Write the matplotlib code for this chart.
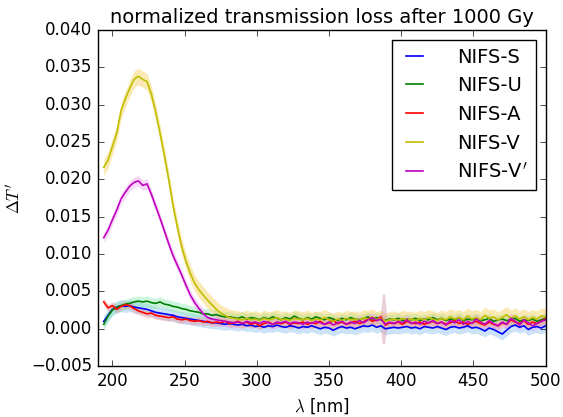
import numpy as np
import matplotlib
matplotlib.use('Agg')
import matplotlib.pyplot as plt

plt.style.use('classic')

# wavelength grid (nm)
wavelength = np.arange(194, 501, 3)

labels = ['NIFS-S', 'NIFS-U', 'NIFS-A', 'NIFS-V', "NIFS-V$'$"]

nifs_s = [0.0010, 0.0018, 0.0026, 0.0029, 0.0031, 0.0030, 0.0031, 0.0029, 0.0028, 0.0027,
          0.0026, 0.0024, 0.0022, 0.0021, 0.0020, 0.0019, 0.0018, 0.0016, 0.0015, 0.0014,
          0.0013, 0.0012, 0.0011, 0.0010, 0.0009, 0.0008, 0.0008, 0.0007, 0.0006, 0.0007,
          0.0006, 0.0005, 0.0006, 0.0004, 0.0005, 0.0003, 0.0004, 0.0002, 0.0004, 0.0003,
          0.0005, 0.0003, 0.0002, 0.0004, 0.0003, 0.0001, 0.0003, 0.0002, 0.0004, 0.0002,
          0.0000, 0.0002, 0.0001, -0.0002, 0.0001, 0.0003, 0.0001, 0.0002, 0.0000, 0.0002,
          0.0004, 0.0003, 0.0005, 0.0002, 0.0004, 0.0000, 0.0001, 0.0002, 0.0001, 0.0002,
          0.0003, 0.0001, 0.0002, 0.0000, 0.0003, 0.0002, 0.0001, 0.0003, 0.0001, -0.0001,
          0.0002, 0.0003, 0.0001, 0.0002, 0.0004, 0.0001, 0.0002, 0.0000, -0.0003, 0.0001,
          -0.0001, -0.0004, -0.0007, -0.0002, 0.0003, 0.0005, 0.0002, 0.0004, -0.0001, 0.0002,
          0.0003, 0.0001, 0.0004]

nifs_u = [0.0006, 0.0017, 0.0025, 0.0029, 0.0031, 0.0033, 0.0034, 0.0036, 0.0037, 0.0036,
          0.0037, 0.0035, 0.0034, 0.0036, 0.0033, 0.0032, 0.0030, 0.0029, 0.0027, 0.0026,
          0.0024, 0.0023, 0.0022, 0.0020, 0.0020, 0.0018, 0.0019, 0.0017, 0.0016, 0.0016,
          0.0015, 0.0014, 0.0016, 0.0013, 0.0015, 0.0014, 0.0012, 0.0015, 0.0013, 0.0016,
          0.0014, 0.0012, 0.0015, 0.0013, 0.0017, 0.0014, 0.0012, 0.0015, 0.0013, 0.0016,
          0.0014, 0.0012, 0.0015, 0.0013, 0.0011, 0.0014, 0.0012, 0.0015, 0.0013, 0.0012,
          0.0014, 0.0016, 0.0013, 0.0015, 0.0012, 0.0011, 0.0013, 0.0012, 0.0014, 0.0011,
          0.0013, 0.0012, 0.0014, 0.0011, 0.0013, 0.0012, 0.0015, 0.0012, 0.0014, 0.0011,
          0.0013, 0.0012, 0.0015, 0.0011, 0.0013, 0.0012, 0.0014, 0.0011, 0.0012, 0.0014,
          0.0010, 0.0012, 0.0013, 0.0011, 0.0012, 0.0014, 0.0010, 0.0012, 0.0011, 0.0013,
          0.0010, 0.0012, 0.0014]

nifs_a = [0.0036, 0.0028, 0.0031, 0.0026, 0.0030, 0.0032, 0.0031, 0.0027, 0.0024, 0.0022,
          0.0020, 0.0021, 0.0018, 0.0017, 0.0016, 0.0015, 0.0016, 0.0013, 0.0012, 0.0013,
          0.0011, 0.0010, 0.0011, 0.0009, 0.0010, 0.0008, 0.0009, 0.0008, 0.0010, 0.0007,
          0.0008, 0.0010, 0.0007, 0.0009, 0.0006, 0.0008, 0.0004, 0.0007, 0.0009, 0.0006,
          0.0008, 0.0007, 0.0009, 0.0006, 0.0008, 0.0007, 0.0009, 0.0006, 0.0008, 0.0007,
          0.0010, 0.0006, 0.0008, 0.0011, 0.0007, 0.0009, 0.0006, 0.0008, 0.0010, 0.0007,
          0.0009, 0.0014, 0.0010, 0.0012, 0.0016, 0.0005, 0.0008, 0.0007, 0.0009, 0.0006,
          0.0010, 0.0008, 0.0007, 0.0009, 0.0006, 0.0008, 0.0010, 0.0007, 0.0009, 0.0006,
          0.0008, 0.0011, 0.0007, 0.0009, 0.0006, 0.0008, 0.0010, 0.0007, 0.0005, 0.0009,
          0.0006, 0.0004, 0.0008, 0.0006, 0.0012, 0.0009, 0.0007, 0.0011, 0.0006, 0.0009,
          0.0007, 0.0010, 0.0013]

nifs_v = [0.0216, 0.0226, 0.0244, 0.0262, 0.0292, 0.0308, 0.0322, 0.0334, 0.0338, 0.0334,
          0.0331, 0.0314, 0.0290, 0.0262, 0.0232, 0.0200, 0.0165, 0.0136, 0.0110, 0.0090,
          0.0074, 0.0061, 0.0052, 0.0045, 0.0038, 0.0032, 0.0026, 0.0021, 0.0018, 0.0015,
          0.0014, 0.0013, 0.0012, 0.0014, 0.0012, 0.0013, 0.0011, 0.0014, 0.0012, 0.0013,
          0.0015, 0.0012, 0.0013, 0.0011, 0.0014, 0.0013, 0.0012, 0.0014, 0.0011, 0.0013,
          0.0012, 0.0015, 0.0012, 0.0010, 0.0013, 0.0011, 0.0014, 0.0012, 0.0013, 0.0011,
          0.0015, 0.0013, 0.0016, 0.0012, 0.0014, 0.0010, 0.0012, 0.0013, 0.0011, 0.0014,
          0.0012, 0.0013, 0.0011, 0.0014, 0.0012, 0.0015, 0.0013, 0.0011, 0.0014, 0.0012,
          0.0016, 0.0013, 0.0015, 0.0012, 0.0017, 0.0013, 0.0015, 0.0012, 0.0018, 0.0014,
          0.0016, 0.0012, 0.0015, 0.0019, 0.0014, 0.0017, 0.0013, 0.0016, 0.0012, 0.0015,
          0.0013, 0.0017, 0.0016]

nifs_v2 = [0.0122, 0.0132, 0.0146, 0.0159, 0.0174, 0.0183, 0.0191, 0.0196, 0.0198, 0.0192,
           0.0194, 0.0180, 0.0164, 0.0148, 0.0131, 0.0114, 0.0098, 0.0085, 0.0072, 0.0058,
           0.0045, 0.0035, 0.0027, 0.0020, 0.0015, 0.0013, 0.0012, 0.0011, 0.0010, 0.0009,
           0.0008, 0.0009, 0.0007, 0.0010, 0.0008, 0.0009, 0.0007, 0.0010, 0.0008, 0.0006,
           0.0009, 0.0008, 0.0010, 0.0007, 0.0009, 0.0008, 0.0006, 0.0009, 0.0007, 0.0010,
           0.0008, 0.0006, 0.0009, 0.0005, 0.0008, 0.0010, 0.0006, 0.0009, 0.0007, 0.0011,
           0.0008, 0.0012, 0.0015, 0.0011, 0.0013, 0.0006, 0.0009, 0.0007, 0.0010, 0.0008,
           0.0012, 0.0007, 0.0009, 0.0006, 0.0010, 0.0008, 0.0011, 0.0007, 0.0009, 0.0005,
           0.0011, 0.0008, 0.0012, 0.0006, 0.0010, 0.0007, 0.0013, 0.0009, 0.0006, 0.0011,
           0.0007, 0.0004, 0.0009, 0.0006, 0.0014, 0.0010, 0.0005, 0.0012, 0.0008, 0.0004,
           0.0007, 0.0010, 0.0012]

# half width of the shaded spread around each curve
spread = [0.0008, 0.0007, 0.0005, 0.0011, 0.0007]

# wide spread near 388 nm
spike_wl = [385.5, 387, 388.5, 390]
spike_lo = [0.0000, -0.0020, -0.0020, 0.0000]
spike_hi = [0.0015, 0.0047, 0.0047, 0.0015]

line_colors = ['b', 'g', 'r', 'y', 'm']
band_colors = ['#7fb8f0', '#80e8a8', '#f08c8c', '#f5c842', '#f0a0f0']

fig = plt.figure(figsize=(5.63, 4.17), dpi=100, facecolor='white')
ax = fig.add_axes([0.174, 0.122, 0.795, 0.806])

series = [nifs_s, nifs_u, nifs_a, nifs_v, nifs_v2]
for y, lab, lc, bc, s in zip(series, labels, line_colors, band_colors, spread):
    y = np.array(y)
    ax.fill_between(wavelength, y - s, y + s, color=bc, alpha=0.4, linewidth=0)
for y, lab, lc in zip(series, labels, line_colors):
    ax.plot(wavelength, y, color=lc, lw=1.2, label=lab)

ax.fill_between(spike_wl, spike_lo, spike_hi, color='#d8a0b0', alpha=0.5, linewidth=0)

ax.set_xlim(190, 500)
ax.set_ylim(-0.005, 0.040)
ax.set_title('normalized transmission loss after 1000 Gy', fontsize=14)
ax.set_xlabel(r'$\lambda$ [nm]', fontsize=12)
ax.set_ylabel(r"$\Delta T\,'$", fontsize=12)
ax.tick_params(labelsize=12)
ax.legend(loc='upper right', fontsize=14, handlelength=1.5, handletextpad=1.45,
          labelspacing=0.5)

plt.savefig('out.png', dpi=100, facecolor='white')
